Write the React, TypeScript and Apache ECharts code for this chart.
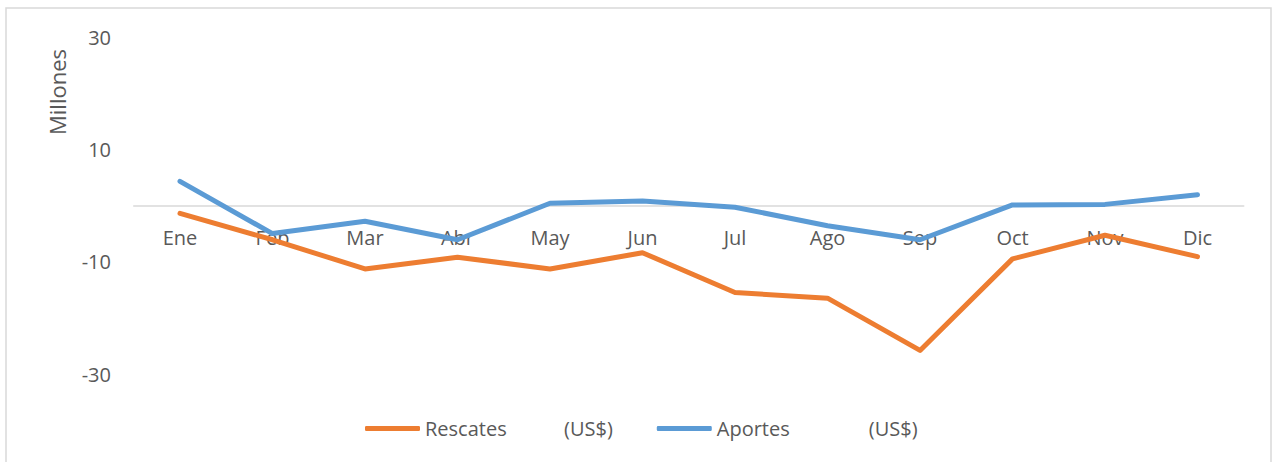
import React, { useEffect, useRef } from "react";
import * as echarts from "echarts";

const months = ["Ene", "Feb", "Mar", "Abr", "May", "Jun", "Jul", "Ago", "Sep", "Oct", "Nov", "Dic"];
const rescates = [-1.4, -6.1, -11.3, -9.2, -11.3, -8.4, -15.5, -16.5, -25.8, -9.5, -5.3, -9.1];
const aportes = [4.3, -5.0, -2.8, -6.1, 0.4, 0.8, -0.3, -3.6, -6.1, 0.1, 0.2, 1.9];
const yMin = -30;
const yMax = 30;
const yInterval = 20;

const FONT = "'Open Sans', sans-serif";
const TXT = "#595959";

export default function App() {
  const ref = useRef<HTMLDivElement>(null);
  useEffect(() => {
    if (!ref.current) return;
    const chart = echarts.init(ref.current, undefined, { renderer: "svg" });
    chart.setOption({
      animation: false,
      backgroundColor: "#ffffff",
      textStyle: { fontFamily: FONT },
      graphic: [
        {
          type: "rect",
          shape: { x: 6, y: 8, width: 1265, height: 470 },
          style: { fill: "none", stroke: "#d9d9d9", lineWidth: 1.5 },
          silent: true,
          z: -10,
        },
        {
          type: "text",
          x: 57,
          y: 92,
          rotation: Math.PI / 2,
          style: {
            text: "Millones",
            fill: TXT,
            font: `22px ${FONT}`,
            align: "center",
            verticalAlign: "middle",
          },
        },
      ],
      grid: { left: 133.75, right: 29.25, top: 37, bottom: 88, containLabel: false },
      legend: {
        left: 360,
        top: 413.5,
        icon: "roundRect",
        itemWidth: 55,
        itemHeight: 5,
        itemGap: 44,
        textStyle: {
          color: TXT,
          fontFamily: FONT,
          fontSize: 20,
          rich: {
            r: { width: 139, fontSize: 20, color: TXT, fontFamily: FONT },
            p: { width: 152, fontSize: 20, color: TXT, fontFamily: FONT },
            u: { fontSize: 20, color: TXT, fontFamily: FONT },
          },
        },
        formatter: (name: string) =>
          name.startsWith("Rescates") ? "{r|Rescates}{u|(US$)}" : "{p|Aportes}{u|(US$)}",
        data: ["Rescates (US$)", "Aportes (US$)"],
      },
      xAxis: {
        type: "category",
        data: months,
        boundaryGap: true,
        offset: -168.25,
        axisLine: { onZero: false, lineStyle: { color: "#d9d9d9", width: 1.5 } },
        axisTick: { show: false },
        axisLabel: { color: TXT, fontSize: 20, fontFamily: FONT, margin: 22, interval: 0 },
        splitLine: { show: false },
      },
      yAxis: {
        type: "value",
        min: yMin,
        max: yMax,
        interval: yInterval,
        axisLine: { show: false },
        axisTick: { show: false },
        splitLine: { show: false },
        axisLabel: { color: TXT, fontSize: 20, fontFamily: FONT, margin: 22.75 },
      },
      series: [
        {
          name: "Rescates (US$)",
          type: "line",
          data: rescates,
          showSymbol: false,
          symbol: "none",
          lineStyle: { color: "#ED7D31", width: 5, cap: "round", join: "round" },
          itemStyle: { color: "#ED7D31" },
          z: 2,
        },
        {
          name: "Aportes (US$)",
          type: "line",
          data: aportes,
          showSymbol: false,
          symbol: "none",
          lineStyle: { color: "#5B9BD5", width: 5, cap: "round", join: "round" },
          itemStyle: { color: "#5B9BD5" },
          z: 3,
        },
      ],
    });
    return () => chart.dispose();
  }, []);
  return (
    <div
      ref={ref}
      style={{ position: "absolute", left: 0, top: 0, width: 1273, height: 462 }}
    />
  );
}
